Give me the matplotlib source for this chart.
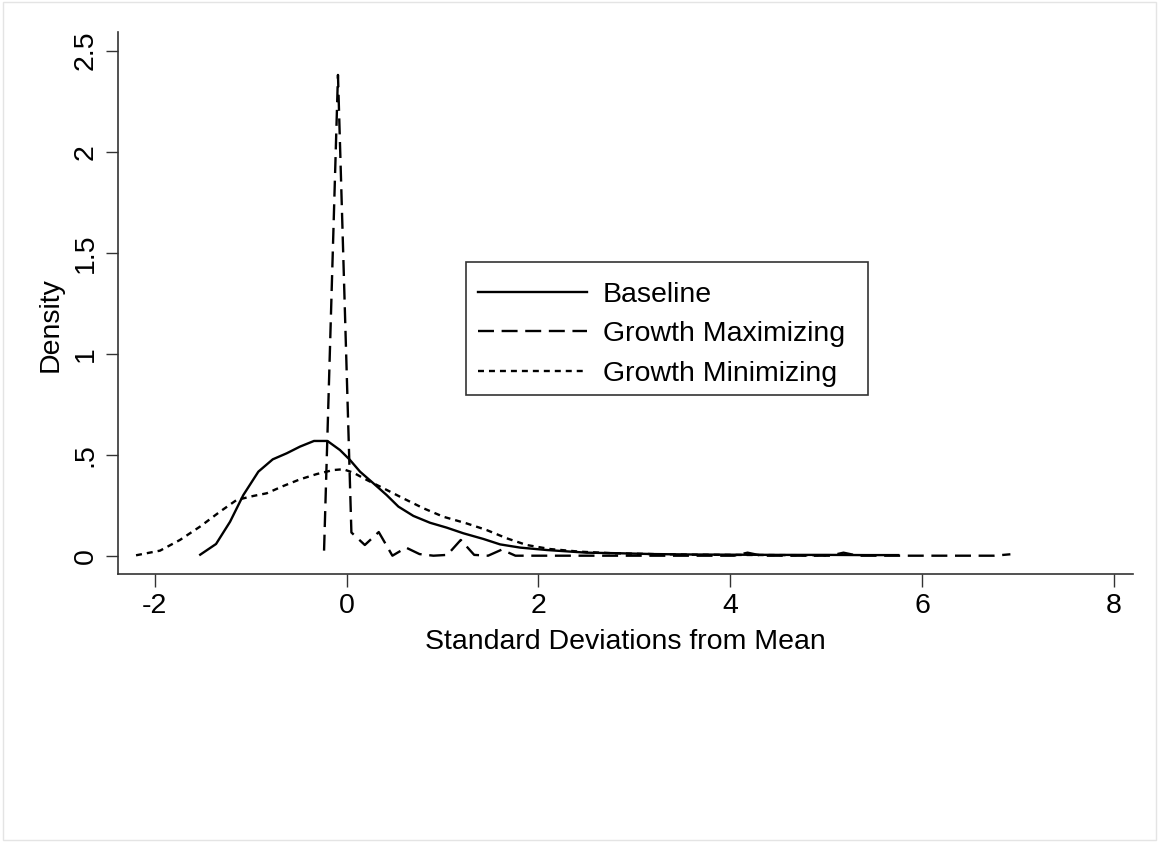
import matplotlib
matplotlib.use("Agg")
import matplotlib.pyplot as plt
from matplotlib.patches import Rectangle

plt.rcParams['font.family'] = ['Liberation Sans', 'DejaVu Sans']
plt.rcParams['lines.scale_dashes'] = False

# Baseline density
base_x = [-1.526, -1.361, -1.215, -1.077, -0.92, -0.77, -0.624, -0.486, -0.34, -0.20,
          -0.069, 0.035, 0.14, 0.28, 0.418, 0.54, 0.696, 0.87, 1.043, 1.217,
          1.425, 1.60, 1.81, 2.09, 2.50, 2.85, 3.2, 3.6, 4.0, 4.5, 5.0, 5.4, 5.75]
base_y = [0.005, 0.058, 0.168, 0.30, 0.416, 0.477, 0.507, 0.54, 0.568, 0.568,
          0.523, 0.474, 0.416, 0.358, 0.30, 0.243, 0.197, 0.163, 0.139, 0.111,
          0.083, 0.056, 0.04, 0.028, 0.015, 0.012, 0.008, 0.006, 0.005, 0.004, 0.004, 0.003, 0.003]

# Growth Maximizing density
max_x = [-0.235, -0.09, 0.05, 0.19, 0.335, 0.4775, 0.62, 0.76, 0.905, 1.05,
         1.19, 1.33, 1.475, 1.6175, 1.76, 1.90, 2.5, 3.0, 3.5, 4.04, 4.18, 4.33,
         4.75, 5.04, 5.18, 5.33, 5.8, 6.3, 6.75, 6.92]
max_y = [0.025, 2.38, 0.115, 0.053, 0.117, 0.0, 0.04, 0.008, 0.0, 0.004,
         0.078, 0.004, 0.0, 0.03, 0.0, 0.0, 0.0, 0.0, 0.0, 0.0, 0.015, 0.0,
         0.0, 0.0, 0.015, 0.0, 0.0, 0.0, 0.0, 0.007]

# Growth Minimizing density
min_x = [-2.195, -1.945, -1.737, -1.528, -1.32, -1.146, -0.97, -0.833, -0.66, -0.486,
         -0.312, -0.139, -0.034, 0.07, 0.21, 0.383, 0.59, 0.80, 1.008, 1.25,
         1.46, 1.67, 1.877, 2.12, 2.43, 2.78, 3.2, 3.6, 4.0, 4.5, 5.0]
min_y = [0.002, 0.025, 0.078, 0.144, 0.218, 0.276, 0.296, 0.309, 0.345, 0.378,
         0.404, 0.424, 0.428, 0.411, 0.375, 0.334, 0.284, 0.235, 0.193, 0.16,
         0.127, 0.086, 0.053, 0.033, 0.02, 0.012, 0.008, 0.005, 0.004, 0.003, 0.002]

labels = ["Baseline", "Growth Maximizing", "Growth Minimizing"]
xticks = [-2, 0, 2, 4, 6, 8]
yticks = [0, 0.5, 1, 1.5, 2, 2.5]
yticklabels = ["0", ".5", "1", "1.5", "2", "2.5"]

W, H = 1159, 842
FS = 20.5
fig = plt.figure(figsize=(W / 100, H / 100), dpi=100)
fig.patch.set_facecolor('white')
fig.add_artist(Rectangle((3 / W, 2 / H), (W - 6) / W, (H - 4) / H, transform=fig.transFigure,
                         fill=False, edgecolor='#e4e4e4', linewidth=1.0))

ax = fig.add_axes([118.3 / W, 1 - 574 / H, (1132.7 - 118.3) / W, (574 - 32.3) / H])
lw = 1.7
ax.plot(base_x, base_y, color='black', lw=lw, ls='-', label=labels[0])
l2, = ax.plot(max_x, max_y, color='black', lw=lw, label=labels[1])
l2.set_dashes((11.5, 5.5))
l3, = ax.plot(min_x, min_y, color='black', lw=lw, label=labels[2])
l3.set_dashes((4.3, 3.6))

ax.set_xlim(-2.38, 8.195)
ax.set_ylim(-0.0906, 2.591)
for s in ['top', 'right']:
    ax.spines[s].set_visible(False)
for s in ['left', 'bottom']:
    ax.spines[s].set_color('#333333')
    ax.spines[s].set_linewidth(1.2)

ax.set_xticks(xticks)
ax.set_xticklabels([str(t) for t in xticks])
ax.set_yticks(yticks)
ax.set_yticklabels(yticklabels, rotation=90, va='center')
ax.tick_params(axis='both', direction='out', length=9, width=1.0, color='#333333',
               labelsize=FS, pad=5)

ax.set_xlabel("Standard Deviations from Mean", fontsize=FS, labelpad=7)
ax.set_ylabel("Density", fontsize=FS)
ax.yaxis.set_label_coords(-0.054, 0.46)

# legend frame drawn separately
fig.add_artist(Rectangle((466 / W, 1 - 395 / H), (868 - 466) / W, (395 - 262) / H,
                         transform=fig.transFigure, fill=False, edgecolor='#333333',
                         linewidth=1.2, zorder=5))
leg = ax.legend(loc='upper left', bbox_to_anchor=(478 / W, 1 - 282 / H),
                bbox_transform=fig.transFigure, fontsize=FS, frameon=False,
                handlelength=3.82, handletextpad=0.56,
                labelspacing=0.47, borderpad=0, borderaxespad=0)

fig.savefig("out.png", dpi=100)
